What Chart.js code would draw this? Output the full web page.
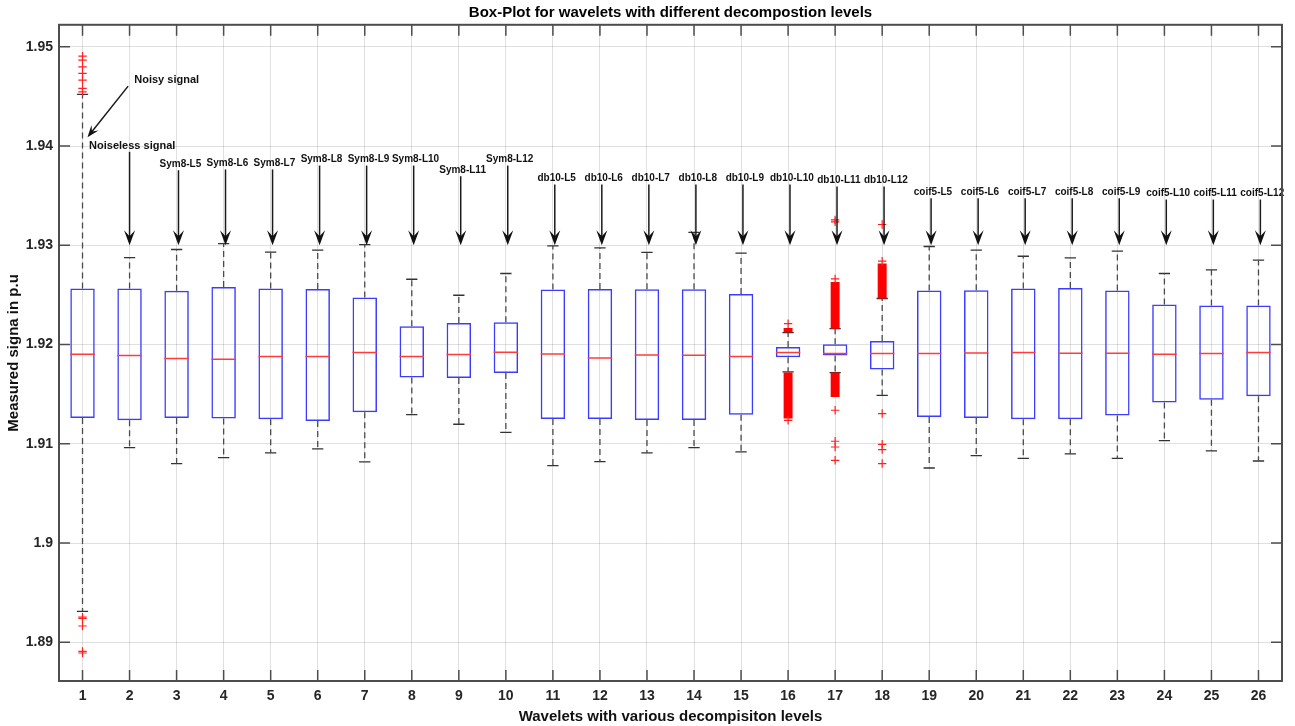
<!DOCTYPE html>
<html>
<head>
<meta charset="utf-8">
<title>Box-Plot for wavelets</title>
<script src="https://cdn.jsdelivr.net/npm/chart.js@4/dist/chart.umd.min.js"></script>
<style>
  body { margin: 0; background: #fff; }
  #wrap { width: 1295px; height: 726px; }
</style>
</head>
<body>
<div id="wrap"><canvas id="boxChart" width="1295" height="726"></canvas></div>
<script>
// --- box-plot of measured signal for each wavelet / decomposition level ---

const FONT = "'Liberation Sans', Arial, Helvetica, sans-serif";
const TITLE = 'Box-Plot for wavelets with different decompostion levels';

// box positions (1 = raw signal, 2 = noiseless, 3..26 = wavelet variants)
const positions = [1, 2, 3, 4, 5, 6, 7, 8, 9, 10, 11, 12, 13, 14, 15, 16, 17, 18, 19, 20, 21, 22, 23, 24, 25, 26];

// quartiles, medians and whisker ends per box
const boxTop = [1.92565, 1.92565, 1.92541, 1.92581, 1.92565, 1.92561, 1.92474, 1.92185, 1.92218, 1.92225,
                1.92555, 1.92561, 1.92558, 1.92558, 1.92510, 1.91976, 1.92003, 1.92036, 1.92545, 1.92548,
                1.92565, 1.92571, 1.92545, 1.92403, 1.92393, 1.92393];
const medians = [1.91902, 1.91889, 1.91859, 1.91852, 1.91879, 1.91879, 1.91919, 1.91879, 1.91899, 1.91923,
                 1.91905, 1.91865, 1.91895, 1.91892, 1.91879, 1.91919, 1.91909, 1.91909, 1.91909, 1.91916,
                 1.91919, 1.91912, 1.91912, 1.91902, 1.91909, 1.91919];
const boxBottom = [1.91260, 1.91237, 1.91260, 1.91254, 1.91247, 1.91230, 1.91318, 1.91667, 1.91663, 1.91714,
                   1.91250, 1.91250, 1.91240, 1.91240, 1.91294, 1.91872, 1.91889, 1.91748, 1.91270, 1.91260,
                   1.91247, 1.91247, 1.91284, 1.91415, 1.91445, 1.91479];
const whiskerHigh = [1.94520, 1.92877, 1.92958, 1.93018, 1.92931, 1.92951, 1.93008, 1.92658, 1.92497, 1.92716,
                     1.92994, 1.92974, 1.92928, 1.93130, 1.92921, 1.92120, 1.92160, 1.92464, 1.92988, 1.92951,
                     1.92890, 1.92873, 1.92941, 1.92716, 1.92752, 1.92850];
const whiskerLow = [1.89312, 1.90962, 1.90801, 1.90861, 1.90908, 1.90948, 1.90818, 1.91294, 1.91197, 1.91116,
                    1.90780, 1.90821, 1.90908, 1.90962, 1.90918, 1.91724, 1.91718, 1.91489, 1.90756, 1.90881,
                    1.90854, 1.90898, 1.90854, 1.91033, 1.90928, 1.90827];

// single outliers (red crosses)
const outlierPos = [1, 1, 1, 1, 1, 1, 1, 1, 1, 1, 1, 1,
                    16, 16,
                    17, 17, 17, 17, 17, 17, 17,
                    18, 18, 18, 18, 18, 18];
const outlierVal = [1.94906, 1.94866, 1.94798, 1.94732, 1.94664, 1.94581, 1.94546, 1.89254, 1.89240, 1.89164, 1.88909, 1.88892,
                    1.92210, 1.91237,
                    1.93256, 1.93236, 1.92662, 1.91338, 1.91026, 1.90968, 1.90834,
                    1.93210, 1.92840, 1.91305, 1.90995, 1.90942, 1.90801];

// stretches so crowded with outliers that they read as solid red bars
const bandPos = [16, 16, 17, 17, 18];
const bandLow = [1.92124, 1.91254, 1.92160, 1.91472, 1.92464];
const bandHigh = [1.92168, 1.91718, 1.92631, 1.91718, 1.92816];

// arrow labels above the boxes
const arrowLabels = ['Sym8-L5', 'Sym8-L6', 'Sym8-L7', 'Sym8-L8', 'Sym8-L9', 'Sym8-L10', 'Sym8-L11', 'Sym8-L12',
                     'db10-L5', 'db10-L6', 'db10-L7', 'db10-L8', 'db10-L9', 'db10-L10', 'db10-L11', 'db10-L12',
                     'coif5-L5', 'coif5-L6', 'coif5-L7', 'coif5-L8', 'coif5-L9', 'coif5-L10', 'coif5-L11', 'coif5-L12'];
const arrowPos = [3, 4, 5, 6, 7, 8, 9, 10, 11, 12, 13, 14, 15, 16, 17, 18, 19, 20, 21, 22, 23, 24, 25, 26];
const arrowLabelY = [1.93817, 1.93825, 1.93825, 1.93864, 1.93864, 1.93864, 1.93757, 1.93864,
                     1.93673, 1.93673, 1.93673, 1.93673, 1.93673, 1.93673, 1.93653, 1.93653,
                     1.93535, 1.93535, 1.93535, 1.93535, 1.93535, 1.93522, 1.93522, 1.93522];
const arrowTipY = 1.9300;

// the two signal notes next to box 1
const noisyNote = { text: 'Noisy signal', x: 2.10, y: 1.94664, fromX: 1.97, fromY: 1.94604, toX: 1.106, toY: 1.9409 };
const noiselessNote = { text: 'Noiseless signal', x: 1.14, y: 1.94002, arrowX: 2.0, fromY: 1.93942, toY: 1.9300 };

const xTicks = positions;
const yTicks = [1.89, 1.90, 1.91, 1.92, 1.93, 1.94, 1.95];

// --- build line segments (null y breaks the line between boxes) ---
const CAP_HALF = 0.12;
const BOX_HALF = 0.26;

const whiskerSegs = [];
const capSegs = [];
const medianSegs = [];
positions.forEach((p, i) => {
    whiskerSegs.push({ x: p, y: boxTop[i] }, { x: p, y: whiskerHigh[i] }, { x: p, y: null });
    whiskerSegs.push({ x: p, y: boxBottom[i] }, { x: p, y: whiskerLow[i] }, { x: p, y: null });
    capSegs.push({ x: p - CAP_HALF, y: whiskerHigh[i] }, { x: p + CAP_HALF, y: whiskerHigh[i] }, { x: p, y: null });
    capSegs.push({ x: p - CAP_HALF, y: whiskerLow[i] }, { x: p + CAP_HALF, y: whiskerLow[i] }, { x: p, y: null });
    medianSegs.push({ x: p - BOX_HALF, y: medians[i] }, { x: p + BOX_HALF, y: medians[i] }, { x: p, y: null });
});

function drawArrow(ctx, x0, y0, x1, y1, len, wid) {
    const dx = x1 - x0, dy = y1 - y0, d = Math.hypot(dx, dy);
    const ux = dx / d, uy = dy / d, nx = -uy, ny = ux;
    ctx.beginPath();
    ctx.moveTo(x0, y0);
    ctx.lineTo(x1 - ux * len * 0.5, y1 - uy * len * 0.5);
    ctx.stroke();
    ctx.beginPath();
    ctx.moveTo(x1, y1);
    ctx.lineTo(x1 - ux * len + nx * wid / 2, y1 - uy * len + ny * wid / 2);
    ctx.lineTo(x1 - ux * len * 0.6, y1 - uy * len * 0.6);
    ctx.lineTo(x1 - ux * len - nx * wid / 2, y1 - uy * len - ny * wid / 2);
    ctx.closePath();
    ctx.fill();
}

// labels + arrows, placed through the chart scales
const annotate = {
    id: 'annotate',
    afterDatasetsDraw(chart) {
        const { ctx, scales: { x, y } } = chart;
        ctx.save();
        ctx.fillStyle = '#111';
        ctx.strokeStyle = '#1a1a1a';
        ctx.lineWidth = 1.5;
        ctx.textBaseline = 'middle';

        ctx.font = `bold 10px ${FONT}`;
        ctx.textAlign = 'center';
        arrowLabels.forEach((txt, i) => {
            const ax = x.getPixelForValue(arrowPos[i] + 0.04);
            const ty = y.getPixelForValue(arrowLabelY[i]);
            ctx.fillText(txt, x.getPixelForValue(arrowPos[i] + 0.08), ty);
            drawArrow(ctx, ax, ty + 6, ax, y.getPixelForValue(arrowTipY), 15, 11);
        });

        ctx.font = `bold 11px ${FONT}`;
        ctx.textAlign = 'left';
        ctx.fillText(noisyNote.text, x.getPixelForValue(noisyNote.x), y.getPixelForValue(noisyNote.y));
        drawArrow(ctx, x.getPixelForValue(noisyNote.fromX), y.getPixelForValue(noisyNote.fromY),
                  x.getPixelForValue(noisyNote.toX), y.getPixelForValue(noisyNote.toY), 12, 9);

        ctx.fillText(noiselessNote.text, x.getPixelForValue(noiselessNote.x), y.getPixelForValue(noiselessNote.y));
        const nx = x.getPixelForValue(noiselessNote.arrowX);
        drawArrow(ctx, nx, y.getPixelForValue(noiselessNote.fromY), nx, y.getPixelForValue(noiselessNote.toY), 15, 11);
        ctx.restore();
    }
};

// axes box with inward tick marks on all four sides, title centred over the axes
const frame = {
    id: 'frame',
    afterDraw(chart) {
        const { ctx, chartArea: a, scales: { x, y } } = chart;
        const t = 11;
        ctx.save();
        ctx.strokeStyle = '#4d4d4d';
        ctx.lineWidth = 1.5;
        ctx.beginPath();
        xTicks.forEach(v => {
            const px = x.getPixelForValue(v);
            ctx.moveTo(px, a.bottom); ctx.lineTo(px, a.bottom - t);
            ctx.moveTo(px, a.top); ctx.lineTo(px, a.top + t);
        });
        yTicks.forEach(v => {
            const py = y.getPixelForValue(v);
            ctx.moveTo(a.left, py); ctx.lineTo(a.left + t, py);
            ctx.moveTo(a.right, py); ctx.lineTo(a.right - t, py);
        });
        ctx.stroke();
        ctx.lineWidth = 2;
        ctx.strokeRect(a.left, a.top, a.right - a.left, a.bottom - a.top);

        ctx.fillStyle = '#000';
        ctx.font = `bold 15px ${FONT}`;
        ctx.textAlign = 'center';
        ctx.textBaseline = 'middle';
        ctx.fillText(TITLE, (a.left + a.right) / 2, a.top / 2);
        ctx.restore();
    }
};

const ctx = document.getElementById('boxChart');
new Chart(ctx, {
    type: 'bar',
    data: {
        datasets: [
            {
                type: 'bar',
                label: 'IQR',
                data: positions.map((p, i) => ({ x: p, y: [boxBottom[i], boxTop[i]] })),
                backgroundColor: 'rgba(0,0,0,0)',
                borderColor: '#3c3cff',
                borderWidth: 1.5,
                borderSkipped: false,
                grouped: false,
                categoryPercentage: 1,
                barPercentage: 0.52,
                order: 3
            },
            {
                type: 'bar',
                label: 'Outlier bands',
                data: bandPos.map((p, i) => ({ x: p, y: [bandLow[i], bandHigh[i]] })),
                backgroundColor: '#ff0000',
                borderWidth: 0,
                grouped: false,
                categoryPercentage: 1,
                barPercentage: 0.19,
                order: 1
            },
            {
                type: 'line',
                label: 'Whiskers',
                data: whiskerSegs,
                borderColor: '#4a4a4a',
                borderWidth: 1.3,
                borderDash: [6, 4],
                pointRadius: 0,
                spanGaps: false,
                order: 4
            },
            {
                type: 'line',
                label: 'Caps',
                data: capSegs,
                borderColor: '#333',
                borderWidth: 1.3,
                pointRadius: 0,
                spanGaps: false,
                order: 4
            },
            {
                type: 'line',
                label: 'Median',
                data: medianSegs,
                borderColor: '#ff3c3c',
                borderWidth: 1.5,
                pointRadius: 0,
                spanGaps: false,
                order: 0
            },
            {
                type: 'scatter',
                label: 'Outliers',
                data: outlierPos.map((p, i) => ({ x: p, y: outlierVal[i] })),
                pointStyle: 'cross',
                radius: 4.2,
                borderColor: '#ff2020',
                borderWidth: 1.2,
                order: 0
            }
        ]
    },
    options: {
        responsive: false,
        devicePixelRatio: 1,
        animation: false,
        layout: { padding: { top: 24.8, right: 13, bottom: 0, left: 0 } },
        plugins: {
            legend: { display: false },
            tooltip: { enabled: false },
            title: { display: false }
        },
        scales: {
            x: {
                type: 'linear',
                min: 0.5,
                max: 26.5,
                offset: false,
                afterBuildTicks: s => { s.ticks = xTicks.map(v => ({ value: v })); },
                afterFit: s => { s.height = 45; },
                grid: { color: 'rgba(0,0,0,0.12)', lineWidth: 1, drawTicks: false, offset: false },
                border: { display: false },
                ticks: {
                    color: '#262626',
                    font: { family: FONT, size: 14, weight: 'bold' },
                    padding: 7,
                    maxRotation: 0,
                    autoSkip: false
                },
                title: {
                    display: true,
                    text: 'Wavelets with various decompisiton levels',
                    color: '#111',
                    font: { family: FONT, size: 15, weight: 'bold' },
                    padding: { top: 0, bottom: 0 }
                }
            },
            y: {
                type: 'linear',
                min: 1.8861,
                max: 1.95222,
                afterBuildTicks: s => { s.ticks = yTicks.map(v => ({ value: v })); },
                afterFit: s => { s.width = 59; },
                grid: { color: 'rgba(0,0,0,0.12)', lineWidth: 1, drawTicks: false },
                border: { display: false },
                ticks: {
                    color: '#262626',
                    font: { family: FONT, size: 14, weight: 'bold' },
                    padding: 6,
                    callback: v => String(+v.toFixed(2))
                },
                title: {
                    display: true,
                    text: 'Measured signa in p.u',
                    color: '#111',
                    font: { family: FONT, size: 15, weight: 'bold' },
                    padding: { top: 4.5, bottom: 0 }
                }
            }
        }
    },
    plugins: [annotate, frame]
});
</script>
</body>
</html>
